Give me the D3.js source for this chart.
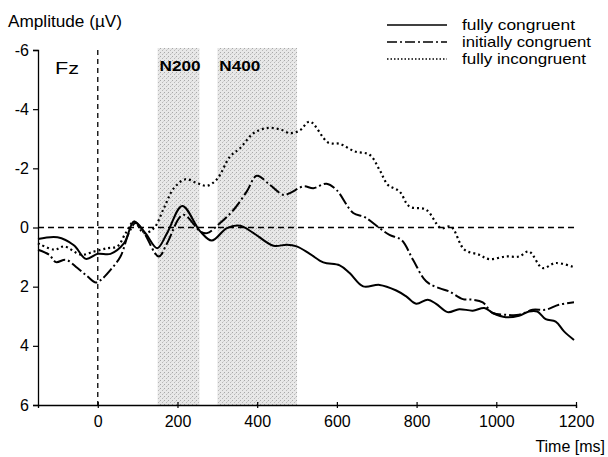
<!DOCTYPE html>
<html>
<head>
<meta charset="utf-8">
<script src="https://cdn.jsdelivr.net/npm/d3@7"></script>
<style>
  html, body { margin: 0; padding: 0; background: #fff; }
  svg { display: block; font-family: "Liberation Sans", Arial, Helvetica, sans-serif; }
</style>
</head>
<body>
<svg id="chart" width="608" height="457"></svg>
<script>
// ---- Data (time in ms, amplitude in µV; negative is plotted up) ----
const seriesNames = ["fully congruent", "initially congruent", "fully incongruent"];

const fullyCongruentT = [-150,-101,-60,-30,0,32,66,91,120,149,174,212,257,286,324,357,390,441,474,499,532,566,607,632,666,707,749,774,799,828,849,878,907,941,970,991,1024,1057,1082,1103,1124,1149,1170,1195];
const fullyCongruentV = [0.39,0.33,0.6,1.06,0.89,0.89,0.53,-0.2,0.2,0.7,0.19,-0.73,0.13,0.44,0.02,-0.06,0.18,0.62,0.58,0.64,0.89,1.18,1.28,1.54,1.99,1.94,2.13,2.33,2.58,2.44,2.58,2.86,2.76,2.81,2.72,2.89,3.03,2.98,2.84,2.84,3.1,3.18,3.51,3.8];

const initiallyCongruentT = [-150,-122,-105,-80,-51,-26,-5,8,32,57,78,95,116,153,174,214,257,274,307,341,374,399,432,466,482,516,541,574,599,641,670,707,732,762,791,824,857,882,916,941,966,991,1024,1057,1091,1124,1157,1195];
const initiallyCongruentV = [0.75,0.92,1.17,1.09,1.37,1.65,1.86,1.77,1.43,0.98,0.19,-0.15,0.18,0.98,0.53,-0.43,0.13,0.19,-0.15,-0.6,-1.22,-1.75,-1.44,-1.1,-1.16,-1.39,-1.33,-1.48,-1.27,-0.49,-0.35,0.02,0.25,0.42,1.09,1.82,2.05,2.16,2.42,2.44,2.53,2.89,2.95,2.95,2.78,2.78,2.61,2.53];

const fullyIncongruentT = [-150,-109,-84,-42,-9,24,49,70,91,116,141,166,191,220,249,274,299,332,357,391,424,457,482,507,532,578,607,645,682,707,728,757,782,824,861,886,920,957,982,1024,1057,1082,1116,1149,1195];
const fullyIncongruentV = [0.53,0.75,0.64,0.92,0.81,0.7,0.64,0.19,-0.2,0.19,0.02,-0.66,-1.33,-1.63,-1.5,-1.41,-1.63,-2.4,-2.68,-3.19,-3.36,-3.32,-3.19,-3.28,-3.58,-2.87,-2.83,-2.57,-2.46,-1.95,-1.44,-1.22,-0.71,-0.6,0.02,-0.03,0.75,0.92,1.07,0.98,0.98,0.81,1.37,1.2,1.34];

const xTicks = [0, 200, 400, 600, 800, 1000, 1200];
const yTicks = [-6, -4, -2, 0, 2, 4, 6];
const yTickLabels = ["-6", "-4", "-2", "0", "2", "4", "6"];
const windows = [{label: "N200", from: 150, to: 255}, {label: "N400", from: 300, to: 500}];

// ---- Layout ----
const svg = d3.select("#chart");
const x = d3.scaleLinear().domain([-150, 1200]).range([38, 576]);
const y = d3.scaleLinear().domain([-6, 6]).range([50, 405]);

// Stipple pattern for the analysis windows
const defs = svg.append("defs");
const pat = defs.append("pattern").attr("id", "stip").attr("patternUnits", "userSpaceOnUse")
  .attr("width", 4).attr("height", 4);
pat.append("rect").attr("width", 4).attr("height", 4).attr("fill", "#e8e8e8");
pat.append("rect").attr("x", 0).attr("y", 0).attr("width", 1).attr("height", 1).attr("fill", "#a8a8a8");
pat.append("rect").attr("x", 2).attr("y", 2).attr("width", 1).attr("height", 1).attr("fill", "#b8b8b8");
pat.append("rect").attr("x", 3).attr("y", 1).attr("width", 1).attr("height", 1).attr("fill", "#d2d2d2");

svg.selectAll("rect.win").data(windows).join("rect")
  .attr("class", "win")
  .attr("x", d => x(d.from)).attr("width", d => x(d.to) - x(d.from))
  .attr("y", y(-6) - 2).attr("height", y(6) - y(-6) + 2)
  .attr("fill", "url(#stip)");

svg.selectAll("text.win").data(windows).join("text")
  .attr("class", "win")
  .attr("x", d => x(d.from) + 2).attr("y", 71)
  .attr("font-size", 15).attr("font-weight", "bold")
  .attr("textLength", 41).attr("lengthAdjust", "spacingAndGlyphs")
  .text(d => d.label);

// Zero line & stimulus onset
svg.append("line").attr("x1", x(-150)).attr("x2", x(1200)).attr("y1", y(0)).attr("y2", y(0))
  .attr("stroke", "#000").attr("stroke-width", 1.5).attr("stroke-dasharray", "6,4");
svg.append("line").attr("x1", x(0)).attr("x2", x(0)).attr("y1", y(-6)).attr("y2", y(6))
  .attr("stroke", "#000").attr("stroke-width", 1.3).attr("stroke-dasharray", "5,4");

// Axes
const yAxis = d3.axisLeft(y).tickValues(yTicks).tickSize(5).tickPadding(4)
  .tickFormat((d, i) => yTickLabels[i]);
const gy = svg.append("g").attr("transform", `translate(${x(-150)},0)`).call(yAxis);
const xAxis = d3.axisBottom(x).tickValues(xTicks).tickSize(3).tickPadding(8).tickFormat(d => String(d));
const gx = svg.append("g").attr("transform", `translate(0,${y(6)})`).call(xAxis);
[gx, gy].forEach(g => {
  g.select(".domain").attr("stroke", "#000").attr("stroke-width", 1.3);
  g.selectAll(".tick line").attr("stroke", "#000").attr("stroke-width", 1.2);
  g.selectAll("text").attr("font-size", 16).attr("fill", "#000")
    .attr("font-family", "'Liberation Sans', Arial, sans-serif");
});
gx.selectAll(".tick").append("line").attr("y2", -3).attr("stroke", "#000").attr("stroke-width", 1.2);
gx.selectAll(".tick text").attr("dy", "0.71em");

// Labels
svg.append("text").attr("x", 8).attr("y", 27).attr("font-size", 16)
  .attr("textLength", 114).attr("lengthAdjust", "spacingAndGlyphs").text("Amplitude (µV)");
svg.append("text").attr("x", 605).attr("y", 452).attr("font-size", 16).attr("text-anchor", "end")
  .text("Time [ms]");
svg.append("text").attr("x", 55).attr("y", 74).attr("font-size", 16)
  .attr("textLength", 24).attr("lengthAdjust", "spacingAndGlyphs").text("Fz");

// Curves
const series = [
  {name: seriesNames[0], t: fullyCongruentT, v: fullyCongruentV, dash: null, w: 2},
  {name: seriesNames[1], t: initiallyCongruentT, v: initiallyCongruentV, dash: "12,3,2,3", w: 2},
  {name: seriesNames[2], t: fullyIncongruentT, v: fullyIncongruentV, dash: "2,3", w: 2.2}
];
const line = d3.line().x(d => x(d[0])).y(d => y(d[1])).curve(d3.curveCatmullRom.alpha(0.5));
svg.selectAll("path.curve").data(series).join("path")
  .attr("class", "curve")
  .attr("d", s => line(s.t.map((t, i) => [t, s.v[i]])))
  .attr("fill", "none").attr("stroke", "#000").attr("stroke-width", s => s.w)
  .attr("stroke-dasharray", s => s.dash);

// Legend
const legendRows = [25, 42, 59];
const legendLens = [113, 129, 124];
const legendDash = [null, "10,3,2,3", "1.5,2"];
const lg = svg.append("g");
series.forEach((s, i) => {
  lg.append("line").attr("x1", 387).attr("x2", 447).attr("y1", legendRows[i]).attr("y2", legendRows[i])
    .attr("stroke", "#000").attr("stroke-width", 1.6).attr("stroke-dasharray", legendDash[i]);
  lg.append("text").attr("x", 462).attr("y", legendRows[i] + 5).attr("font-size", 15)
    .attr("textLength", legendLens[i]).attr("lengthAdjust", "spacingAndGlyphs").text(s.name);
});
</script>
</body>
</html>
